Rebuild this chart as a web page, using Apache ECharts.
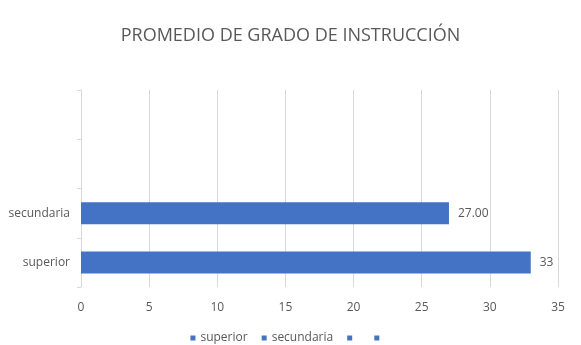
<!DOCTYPE html>
<html><head><meta charset="utf-8">
<script src="https://cdn.jsdelivr.net/npm/echarts@6/dist/echarts.min.js"></script>
<style>html,body{margin:0;padding:0;background:#fff}#c{width:581px;height:345px}</style>
</head><body><div id="c"></div>
<script>
const categories = ['superior', 'secundaria', ' ', '  '];
const values = [33, 27, null, null];
const labelTexts = ['33', '27.00', '', ''];
const xTicks = [0, 5, 10, 15, 20, 25, 30, 35];

const color = '#4472C4';
const series = categories.map((name, i) => ({
  name: name,
  type: 'bar',
  stack: 'all',
  barWidth: 22,
  itemStyle: { color: color },
  label: {
    show: values[i] != null,
    position: 'right',
    distance: 9,
    color: '#595959',
    fontSize: 12,
    fontFamily: 'Open Sans',
    formatter: () => labelTexts[i]
  },
  data: categories.map((c, j) => (j === i && values[i] != null) ? values[i] : '-')
}));

const chart = echarts.init(document.getElementById('c'));
chart.setOption({
  backgroundColor: '#fff',
  animation: false,
  title: {
    text: 'PROMEDIO DE GRADO DE INSTRUCCIÓN',
    left: 'center',
    top: 22,
    textStyle: { color: '#595959', fontSize: 18, fontWeight: 'normal', fontFamily: 'Open Sans' }
  },
  legend: {
    top: 327,
    left: 'center',
    icon: 'rect',
    itemWidth: 5,
    itemHeight: 5,
    itemGap: 14,
    data: categories,
    textStyle: { color: '#595959', fontSize: 12, fontFamily: 'Open Sans' }
  },
  grid: { left: 81, right: 23, top: 90, bottom: 58, containLabel: false },
  xAxis: {
    type: 'value',
    min: xTicks[0],
    max: xTicks[xTicks.length - 1],
    interval: 5,
    axisLine: { show: false },
    axisTick: { show: false },
    splitLine: { lineStyle: { color: '#d9d9d9', width: 1 } },
    axisLabel: { color: '#595959', fontSize: 12, fontFamily: 'Open Sans', margin: 15 }
  },
  yAxis: {
    type: 'category',
    data: categories,
    axisLine: { lineStyle: { color: '#d9d9d9' } },
    axisTick: { show: true, length: 4, lineStyle: { color: '#d9d9d9' } },
    axisLabel: { color: '#595959', fontSize: 12, fontFamily: 'Open Sans', margin: 11 }
  },
  series: series
});
</script>
</body></html>
